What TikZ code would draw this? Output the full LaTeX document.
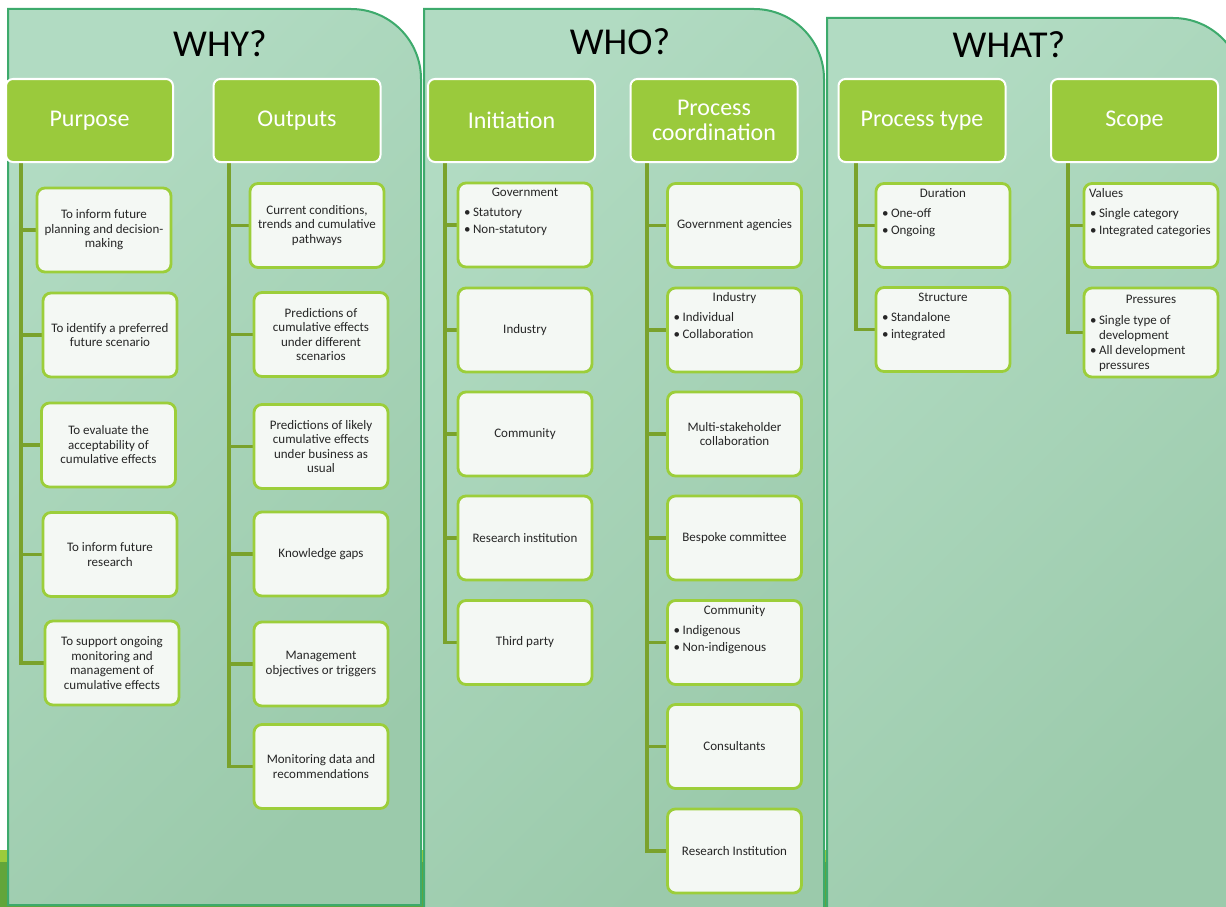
\documentclass[tikz,border=0pt]{standalone}
\usepackage{fontspec}
\setmainfont{Carlito}
\definecolor{panelL}{HTML}{B1DBC2}
\definecolor{panelD}{HTML}{9BCAAB}
\definecolor{panelB}{HTML}{3DAA6C}
\definecolor{hdrG}{HTML}{9ACA3C}
\definecolor{leafB}{HTML}{9CCE3A}
\definecolor{leafF}{HTML}{F4F8F4}
\definecolor{connC}{HTML}{7AA22C}
\definecolor{stripL}{HTML}{9CCB3B}
\definecolor{stripD}{HTML}{62A53A}
\definecolor{txt}{HTML}{262626}
\pgfdeclarelayer{bg}
\pgfdeclarelayer{mid}
\pgfsetlayers{bg,mid,main}
\newcommand\bul[1]{\par\leftskip=3pt\hangindent=9pt\hangafter=1\noindent\hbox to 9pt{\textbullet\hss}#1\par}
\newcommand\bbx[1]{\parbox[c][80pt][t]{128pt}{\fontsize{13}{17}\selectfont #1\par\vfill}}
\tikzset{
  panel/.style={draw=panelB, line width=2pt, shading=axis, top color=panelL, bottom color=panelD, shading angle=45},
  hdrbox/.style={fill=hdrG, draw=white, line width=2pt, rounded corners=7pt, minimum width=167pt, minimum height=83pt, text=white, font=\fontsize{24}{25}\selectfont, align=center, inner sep=0pt},
  leaf/.style={fill=leafF, draw=leafB, line width=2.8pt, rounded corners=8pt, minimum width=134pt, minimum height=84pt, inner sep=0pt, text=txt, font=\fontsize{13}{14.5}\selectfont, align=center},
  conn/.style={draw=connC, line width=3.8pt},
  ttl/.style={font=\fontsize{38}{40}\selectfont, anchor=base, text=black, inner sep=0pt}
}
\begin{document}
\begin{tikzpicture}[x=1pt,y=-1pt]
\useasboundingbox (0,0) rectangle (1226,907);
\begin{pgfonlayer}{bg}
\begin{scope}
\clip (0,0) rectangle (1226,907);
\fill[white] (0,0) rectangle (1226,907);
\fill[stripL] (0,850) rectangle (1226,862);
\fill[stripD] (0,862) rectangle (1226,907);
\path[panel] (8,905) -- (8,9) -- (351,9) .. controls (389.7,9) and (421,40.3) .. (421,79) -- (421,905) -- cycle;
\path[panel] (424,915) -- (424,9) -- (754,9) .. controls (792.7,9) and (824,40.3) .. (824,79) -- (824,915) -- cycle;
\path[panel] (827,915) -- (827,18) -- (1173,18) .. controls (1211.7,18) and (1243,49.3) .. (1243,88) -- (1243,915) -- cycle;
\end{scope}
\end{pgfonlayer}
% titles
\node[ttl] (why) at (220,57) {WHY?};
\node[ttl] (who) at (620,55) {WHO?};
\node[ttl] (what) at (1009,58) {WHAT?};
% headers
\node[hdrbox] (purpose) at (89.5,120.5) {Purpose};
\node[hdrbox] (outputs) at (297,120.5) {Outputs};
\node[hdrbox] (initiation) at (511.5,120.5) {Initiation};
\node[hdrbox] (coord) at (714,120.5) {Process\\coordination};
\node[hdrbox] (ptype) at (922,120.5) {Process type};
\node[hdrbox] (scope) at (1134.5,120.5) {Scope};
% leaves: Purpose
\node[leaf] (p1) at (104,230) {To inform future\\planning and decision-\\making};
\node[leaf] (p2) at (110,335) {To identify a preferred\\future scenario};
\node[leaf] (p3) at (108.5,445) {To evaluate the\\acceptability of\\cumulative effects};
\node[leaf] (p4) at (110,554.5) {To inform future\\research};
\node[leaf] (p5) at (112,663) {To support ongoing\\monitoring and\\management of\\cumulative effects};
% Outputs
\node[leaf] (o1) at (317,225.5) {Current conditions,\\trends and cumulative\\pathways};
\node[leaf] (o2) at (321,334.5) {Predictions of\\cumulative effects\\under different\\scenarios};
\node[leaf] (o3) at (321,446.5) {Predictions of likely\\cumulative effects\\under business as\\usual};
\node[leaf] (o4) at (321,554) {Knowledge gaps};
\node[leaf] (o5) at (321,664) {Management\\objectives or triggers};
\node[leaf] (o6) at (321,766.5) {Monitoring data and\\recommendations};
% Initiation
\node[leaf] (i1) at (525,225) {\bbx{\centering Government\strut\par\vspace{3pt}\raggedright\bul{Statutory}\bul{Non-statutory}}};
\node[leaf] (i2) at (525,330) {Industry};
\node[leaf] (i3) at (525,434) {Community};
\node[leaf] (i4) at (525,538) {Research institution};
\node[leaf] (i5) at (525,642.5) {Third party};
% Process coordination
\node[leaf] (c1) at (734.5,225.5) {Government agencies};
\node[leaf] (c2) at (734.5,330) {\bbx{\centering Industry\strut\par\vspace{3pt}\raggedright\bul{Individual}\bul{Collaboration}}};
\node[leaf] (c3) at (734.5,434) {Multi-stakeholder\\collaboration};
\node[leaf] (c4) at (734.5,538) {Bespoke committee};
\node[leaf] (c5) at (734.5,642.5) {\bbx{\centering Community\strut\par\vspace{3pt}\raggedright\bul{Indigenous}\bul{Non-indigenous}}};
\node[leaf] (c6) at (734.5,746.5) {Consultants};
\node[leaf] (c7) at (734.5,851) {Research Institution};
% Process type
\node[leaf] (t1) at (943,225.5) {\bbx{\centering Duration\strut\par\vspace{3pt}\raggedright\bul{One-off}\bul{Ongoing}}};
\node[leaf] (t2) at (943,329.5) {\bbx{\centering Structure\strut\par\vspace{3pt}\raggedright\bul{Standalone}\bul{integrated}}};
% Scope
\node[leaf] (s1) at (1151,225.5) {\bbx{\raggedright\hspace*{2pt}Values\strut\par\vspace{3pt}\bul{Single category}\bul{Integrated categories}}};
\node[leaf, minimum height=89pt] (s2) at (1151,332.5) {\parbox[c][80pt][t]{128pt}{\fontsize{13}{15}\selectfont\centering Pressures\strut\par\vspace{6pt}\raggedright\bul{Single type of development}\bul{All development pressures}\par\vfill}};
% connectors
\begin{pgfonlayer}{mid}
\foreach \n in {p1,p2,p3,p4,p5} \draw[conn] ([xshift=-68.5pt]purpose.south) |- (\n.west);
\foreach \n in {o1,o2,o3,o4,o5,o6} \draw[conn] ([xshift=-68pt]outputs.south) |- (\n.west);
\foreach \n in {i1,i2,i3,i4,i5} \draw[conn] ([xshift=-66.5pt]initiation.south) |- (\n.west);
\foreach \n in {c1,c2,c3,c4,c5,c6,c7} \draw[conn] ([xshift=-67pt]coord.south) |- (\n.west);
\foreach \n in {t1,t2} \draw[conn] ([xshift=-66pt]ptype.south) |- (\n.west);
\foreach \n in {s1,s2} \draw[conn] ([xshift=-66.5pt]scope.south) |- (\n.west);
\end{pgfonlayer}
\end{tikzpicture}
\end{document}
